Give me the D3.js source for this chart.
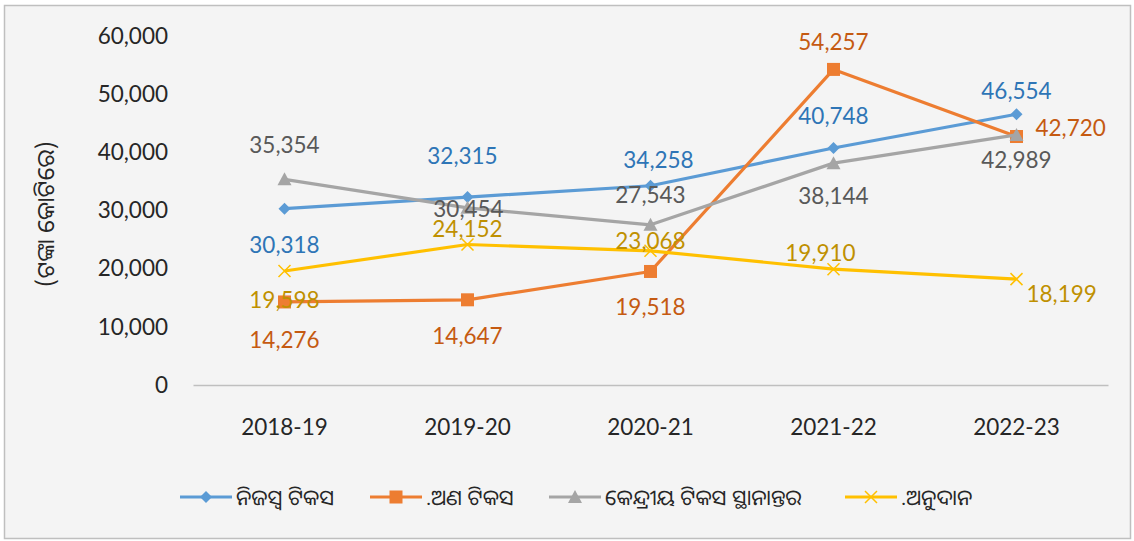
<!DOCTYPE html>
<html>
<head>
<meta charset="utf-8">
<script src="https://cdn.jsdelivr.net/npm/d3@7"></script>
<style>
  body { margin: 0; background: #fff; }
  text { font-family: Lato, "Noto Sans", sans-serif; }
  .odia { font-family: "Noto Sans Oriya", "Noto Sans Odia", "Lohit Odia", "Noto Sans", sans-serif; }
</style>
</head>
<body>
<div id="chart"></div>
<script>
// data
const years = ["2018-19", "2019-20", "2020-21", "2021-22", "2022-23"];
const ownTax = [30318, 32315, 34258, 40748, 46554];
const nonTax = [14276, 14647, 19518, 54257, 42720];
const centralTax = [35354, 30454, 27543, 38144, 42989];
const grants = [19598, 24152, 23068, 19910, 18199];
const seriesNames = ["ନିଜସ୍ୱ ଟିକସ", ".ଅଣ ଟିକସ", "କେନ୍ଦ୍ରୀୟ ଟିକସ ସ୍ଥାନାନ୍ତର", ".ଅନୁଦାନ"];
const yTicks = [0, 10000, 20000, 30000, 40000, 50000, 60000];

// label offsets from the marker [dx, dy, anchor]
const labelOffsets = [
  [[0, 44, "middle"], [-5, -33, "middle"], [8, -18, "middle"], [0, -24, "middle"], [0, -15, "middle"]],
  [[0, 46, "middle"], [0, 44, "middle"], [0, 44, "middle"], [0, -19, "middle"], [19, -1, "start"]],
  [[0, -26, "middle"], [1, 9, "middle"], [0, -22, "middle"], [0, 41, "middle"], [0, 33, "middle"]],
  [[0, 37, "middle"], [0, -8, "middle"], [0, -2, "middle"], [-13, -8, "middle"], [10, 23, "start"]]
];

const lineColors = ["#5B9BD5", "#ED7D31", "#A5A5A5", "#FFC000"];
const labelColors = ["#2E75B6", "#C55A11", "#595959", "#BF9000"];
const markers = ["diamond", "square", "triangle", "cross"];

const width = 1134, height = 541;
const svg = d3.select("#chart").append("svg")
    .attr("width", width)
    .attr("height", height);

svg.append("rect")
    .attr("x", 4.5).attr("y", 5.5)
    .attr("width", 1126).attr("height", 533)
    .attr("fill", "#F4F4F4")
    .attr("stroke", "#BFBFBF")
    .attr("stroke-width", 1.5);

const x = d3.scaleBand().domain(years).range([193, 1108]);
const y = d3.scaleLinear().domain([0, 60000]).range([385, 36]);
const fmt = d3.format(",");

// y axis (labels only)
const yAxis = svg.append("g")
    .attr("transform", "translate(193,0)")
    .call(d3.axisLeft(y).tickValues(yTicks).tickFormat(fmt).tickSize(0).tickPadding(25));
yAxis.select(".domain").remove();
yAxis.selectAll("text").attr("font-size", 22.5).attr("fill", "#262626")
    .style("font-family", "Lato, sans-serif");

// x axis
const xAxis = svg.append("g")
    .attr("transform", "translate(0,385)")
    .call(d3.axisBottom(x).tickSize(0).tickPadding(34));
xAxis.select(".domain").attr("stroke", "#BFBFBF").attr("stroke-width", 1.5);
xAxis.selectAll("text").attr("font-size", 22.5).attr("fill", "#262626")
    .style("font-family", "Lato, sans-serif");

svg.append("text")
    .attr("class", "odia")
    .attr("transform", "translate(54,214) rotate(-90)")
    .attr("text-anchor", "middle")
    .attr("font-size", 24)
    .attr("fill", "#262626")
    .text("(ଟଙ୍କା କୋଟିରେ)");

function drawMarker(g, type, color, cx, cy) {
  if (type === "diamond") {
    g.append("path").attr("d", `M${cx},${cy - 6}L${cx + 6},${cy}L${cx},${cy + 6}L${cx - 6},${cy}Z`)
      .attr("fill", color);
  } else if (type === "square") {
    g.append("rect").attr("x", cx - 6.5).attr("y", cy - 6.5).attr("width", 13).attr("height", 13)
      .attr("fill", color);
  } else if (type === "triangle") {
    g.append("path").attr("d", `M${cx},${cy - 7}L${cx + 7},${cy + 6}L${cx - 7},${cy + 6}Z`)
      .attr("fill", color);
  } else {
    g.append("path").attr("d", `M${cx - 6},${cy - 6}L${cx + 6},${cy + 6}M${cx - 6},${cy + 6}L${cx + 6},${cy - 6}`)
      .attr("stroke", color).attr("stroke-width", 1.5);
  }
}

const allSeries = [ownTax, nonTax, centralTax, grants];
const line = d3.line()
    .x((d, i) => x(years[i]) + x.bandwidth() / 2)
    .y(d => y(d));

allSeries.forEach((vals, s) => {
  const g = svg.append("g");
  g.append("path")
      .datum(vals)
      .attr("d", line)
      .attr("fill", "none")
      .attr("stroke", lineColors[s])
      .attr("stroke-width", 3.2)
      .attr("stroke-linejoin", "round");
  vals.forEach((v, i) => {
    drawMarker(g, markers[s], lineColors[s], x(years[i]) + x.bandwidth() / 2, y(v));
  });
});

// data labels drawn after all lines
allSeries.forEach((vals, s) => {
  svg.append("g").selectAll("text")
    .data(vals)
    .enter().append("text")
    .attr("x", (d, i) => x(years[i]) + x.bandwidth() / 2 + labelOffsets[s][i][0])
    .attr("y", (d, i) => y(d) + labelOffsets[s][i][1])
    .attr("text-anchor", (d, i) => labelOffsets[s][i][2])
    .attr("font-size", 22.5)
    .attr("fill", labelColors[s])
    .text(d => fmt(d));
});

// legend
const legendX = [180, 370, 549, 845];
const legend = svg.append("g");
seriesNames.forEach((name, s) => {
  const lx = legendX[s], ly = 497;
  legend.append("line")
      .attr("x1", lx).attr("x2", lx + 52)
      .attr("y1", ly).attr("y2", ly)
      .attr("stroke", lineColors[s])
      .attr("stroke-width", 3.2);
  drawMarker(legend, markers[s], lineColors[s], lx + 26, ly);
  legend.append("text")
      .attr("class", "odia")
      .attr("x", lx + 56)
      .attr("y", ly + 8)
      .attr("font-size", 21.5)
      .attr("fill", "#262626")
      .text(name);
});
</script>
</body>
</html>
